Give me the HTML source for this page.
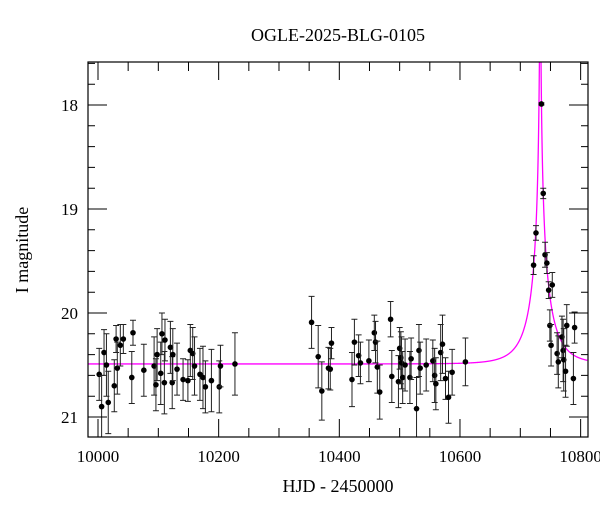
<!DOCTYPE html>
<html><head><meta charset="utf-8"><style>
body{margin:0;background:#fff}
svg text{font-family:"Liberation Serif",serif;fill:#000}
</style></head><body>
<svg id="c" width="600" height="512" xmlns="http://www.w3.org/2000/svg">
<text x="338" y="41" text-anchor="middle" font-size="18">OGLE-2025-BLG-0105</text>
<text x="338" y="492" text-anchor="middle" font-size="18">HJD - 2450000</text>
<text transform="translate(28,250) rotate(-90)" text-anchor="middle" font-size="18">I magnitude</text>
<g id="plot"></g>
</svg>
<script>
const hjd=[10002,10006,10010,10014,10017,10027,10030,10032,10037,10042,10056,10058,10076,10093,10096,10098,10104,10106,10110,10111,10120,10123,10124,10131,10141,10149,10153,10157,10160,10169,10174,10178,10188,10201,10203,10227,
10354,10365,10371,10382,10385,10387,10421,10425,10432,10435,10449,10458,10460,10463,10467,10485,10487,10498,10500,10502,10503,10505,10509,10517,10519,10528,10532,10534,10544,10555,10558,10560,10568,10571,10576,10581,10587,10609,
10722,10726,10735,10738,10741,10744,10747,10753,10749,10751,10761,10763,10769,10771,10772,10775,10777,10788,10790];
const mags=[20.59,20.90,20.38,20.50,20.86,20.70,20.25,20.53,20.31,20.25,20.62,20.19,20.55,20.51,20.69,20.40,20.58,20.20,20.67,20.26,20.33,20.67,20.40,20.54,20.64,20.65,20.36,20.39,20.51,20.59,20.62,20.71,20.65,20.71,20.51,20.49,
20.09,20.42,20.75,20.53,20.54,20.29,20.64,20.28,20.41,20.48,20.46,20.19,20.28,20.52,20.76,20.06,20.61,20.66,20.34,20.43,20.48,20.62,20.50,20.62,20.44,20.92,20.36,20.53,20.50,20.46,20.60,20.68,20.38,20.30,20.63,20.81,20.57,20.47,
19.54,19.23,17.99,18.85,19.44,19.52,19.78,19.73,20.12,20.31,20.39,20.47,20.23,20.36,20.45,20.56,20.12,20.63,20.14];
const errs=[0.25,0.3,0.22,0.3,0.3,0.25,0.13,0.25,0.2,0.14,0.25,0.12,0.25,0.28,0.25,0.25,0.3,0.2,0.3,0.2,0.25,0.25,0.25,0.25,0.2,0.2,0.25,0.25,0.28,0.25,0.3,0.25,0.3,0.25,0.2,0.3,
0.25,0.3,0.28,0.2,0.2,0.15,0.26,0.22,0.2,0.2,0.2,0.17,0.2,0.25,0.26,0.17,0.25,0.25,0.2,0.25,0.25,0.25,0.25,0.25,0.2,0.3,0.25,0.25,0.25,0.2,0.26,0.25,0.27,0.28,0.2,0.25,0.22,0.23,
0.09,0.07,0.01,0.05,0.12,0.1,0.08,0.12,0.15,0.2,0.2,0.25,0.2,0.3,0.3,0.25,0.2,0.25,0.15];
const xTicks=[10000,10200,10400,10600,10800];
const yTicks=[18,19,20,21];
const model={t0:10733,tE:40,u0:0.01,fs:0.5,base:20.49};

const L=88,R=588,T=62,B=437;
const X=t=>98+(t-10000)*0.6033;
const Y=m=>313+(m-20)*104;
const NS="http://www.w3.org/2000/svg";
const g=document.getElementById('plot');
function mk(tag,a){const e=document.createElementNS(NS,tag);for(const k in a)e.setAttribute(k,a[k]);g.appendChild(e);return e;}
// model curve
let d="";
for(let t=9983;t<=10811;t+=0.25){const u=Math.sqrt(model.u0**2+((t-model.t0)/model.tE)**2);const A=(u*u+2)/(u*Math.sqrt(u*u+4));const m=model.base-2.5*Math.log10(model.fs*A+1-model.fs);let y=Math.max(Y(m),T-5);d+=(d?"L":"M")+X(t).toFixed(2)+","+y.toFixed(2);}
const cp=mk('clipPath',{id:'cp'});const cr=document.createElementNS(NS,'rect');cr.setAttribute('x',L);cr.setAttribute('y',T);cr.setAttribute('width',R-L);cr.setAttribute('height',B-T);cp.appendChild(cr);
const curve=mk('path',{d:d,fill:'none',stroke:'#ff00ff','stroke-width':1.3,'clip-path':'url(#cp)'});


// data points
for(let i=0;i<hjd.length;i++){const x=X(hjd[i]),y=Y(mags[i]),e=errs[i]*104;
const eb=mk('path',{d:`M${x},${y-e}V${y+e}M${x-3},${y-e}H${x+3}M${x-3},${y+e}H${x+3}`,stroke:'#222','stroke-width':1,fill:'none','clip-path':'url(#cp)'});


const c=mk('circle',{cx:x,cy:y,r:2.8,fill:'#000'});

}
// ticks
let td="";
for(let t=9950;t<=10850;t+=50){const x=X(t);if(x<L||x>R)continue;const len=(t%200===0)?18:9;td+=`M${x},${B}V${B-len}M${x},${T}V${T+len}`;}
for(let m=17.6;m<=21.2;m+=0.2){const mm=Math.round(m*10)/10;const y=Y(mm);if(y<T||y>B)continue;const len=(Math.abs(mm-Math.round(mm))<0.01)?19:7;td+=`M${L},${y}H${L+len}M${R},${y}H${R-len}`;}
const tk=mk('path',{d:td,stroke:'#000','stroke-width':1,fill:'none'});


const fr=mk('rect',{x:L,y:T,width:R-L,height:B-T,fill:'none',stroke:'#000','stroke-width':1.2});


for(const t of xTicks){const tx=mk('text',{x:X(t),y:B+25,'text-anchor':'middle','font-size':17});tx.textContent=t;

}
for(const m of yTicks){const tx=mk('text',{x:78,y:Y(m)+6,'text-anchor':'end','font-size':17});tx.textContent=m;

}
</script>
</body></html>
